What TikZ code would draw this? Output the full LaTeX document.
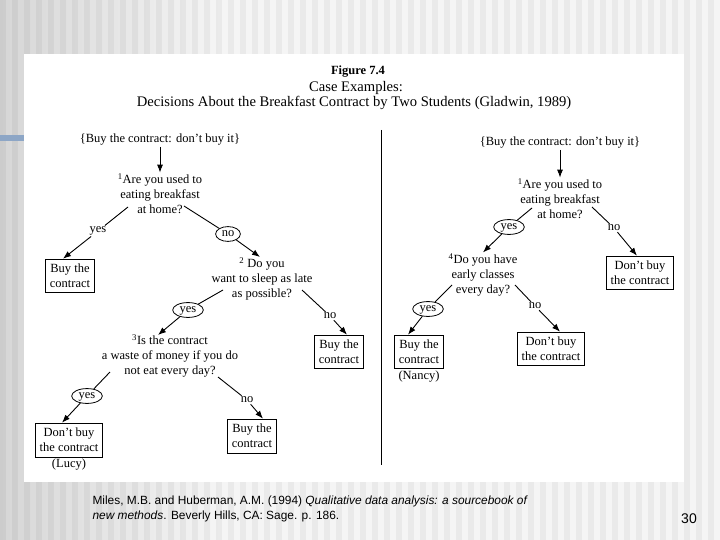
\documentclass[tikz,border=0pt]{standalone}
\usepackage{fontspec}
\setmainfont{Liberation Serif}
\setsansfont{Liberation Sans}
\usetikzlibrary{shapes.geometric, arrows.meta, positioning}

\definecolor{slidebar}{RGB}{141,166,198}
\newcommand{\treefont}{\fontsize{12.5}{15}\selectfont}
\newcommand{\titlefont}{\fontsize{14.6}{16}\selectfont}

\begin{document}
\begin{tikzpicture}[
    x=1pt, y=-1pt,
    font=\treefont,
    question/.style={
        align=center,
        inner sep=1pt
    },
    answer/.style={
        inner sep=1pt
    },
    chosen/.style={
        draw,
        ellipse,
        line width=0.8pt,
        inner xsep=2.5pt,
        inner ysep=1.5pt,
        text height=6pt,
        text depth=1.5pt
    },
    outcome/.style={
        draw,
        line width=0.8pt,
        align=center,
        inner xsep=4pt,
        inner ysep=5pt
    },
    link/.style={
        line width=0.9pt
    },
    arrow/.style={
        line width=0.9pt,
        -{Latex[length=8pt,width=6pt]}
    }
]
\useasboundingbox (0,0) rectangle (720,540);

% Slide background
\fill[black!4] (0,0) rectangle (720,540);
\shade[left color=black!16, right color=black!4] (0,0) rectangle (220,540);
\foreach \x in {0,12,...,708} {
    \fill[black, opacity=0.045] (\x,0) rectangle ++(6,540);
}
\fill[slidebar] (0,135) rectangle (24,141);
\fill[white] (24,54) rectangle (684,482);

% Title
\node[font=\fontsize{12.5}{14}\selectfont\bfseries] (fig) at (358,72) {Figure 7.4};
\node[font=\titlefont] (case) at (356,88) {Case Examples:};
\node[font=\titlefont] (decis) at (354,103) {Decisions About the Breakfast Contract by Two Students (Gladwin, 1989)};

% Separator between the two students
\draw[line width=0.8pt] (381,130) -- (381,465);


% Left tree (Lucy)
\node[question] (lhead) at (160,140) {\{Buy the contract: don't buy it\}};
\node[question] (lq1) at (160,194) {\textsuperscript{1}Are you used to\\eating breakfast\\at home?};
\node[answer] (lyes1) at (98,231) {yes};
\node[chosen] (lno1) at (228,234) {no};
\node[outcome] (lbuy1) at (70,276) {Buy the\\contract};
\node[question] (lq2) at (262,279) {\textsuperscript{2} Do you\\want to sleep as late\\as possible?};
\node[chosen] (lyes2) at (188,310) {yes};
\node[answer] (lno2) at (330,316) {no};
\node[outcome] (lbuy2) at (339,352) {Buy the\\contract};
\node[question] (lq3) at (170,356) {\textsuperscript{3}Is the contract\\a waste of money if you do\\not eat every day?};
\node[chosen] (lyes3) at (87,396) {yes};
\node[answer] (lno3) at (247,400) {no};
\node[outcome] (ldont) at (69,440) {Don't buy\\the contract};
\node[below=-2pt of ldont] (lucy) {(Lucy)};
\node[outcome] (lbuy3) at (252,436) {Buy the\\contract};

\draw[arrow] (lhead) -- (lq1);
\draw[link] ([shift={(-32pt,-13pt)}]lq1.center) -- (lyes1);
\draw[arrow] (lyes1) -- ([xshift=-7pt]lbuy1.north);
\draw[link] ([shift={(24pt,-12pt)}]lq1.center) -- (lno1);
\draw[arrow] (lno1) -- ([shift={(-2pt,22pt)}]lq2.center);
\draw[link] ([shift={(-39pt,-11pt)}]lq2.center) -- (lyes2);
\draw[arrow] (lyes2) -- ([shift={(-12pt,21pt)}]lq3.center);
\draw[link] ([shift={(40pt,-11pt)}]lq2.center) -- (lno2);
\draw[arrow] (lno2) -- ([xshift=8pt]lbuy2.north);
\draw[link] ([shift={(-60pt,-16pt)}]lq3.center) -- (lyes3);
\draw[arrow] (lyes3) -- ([xshift=-7pt]ldont.north);
\draw[link] ([shift={(48pt,-21pt)}]lq3.center) -- (lno3);
\draw[arrow] (lno3) -- ([xshift=11pt]lbuy3.north);


% Right tree (Nancy)
\node[question] (rhead) at (560,143) {\{Buy the contract: don't buy it\}};
\node[question] (rq1) at (560,199) {\textsuperscript{1}Are you used to\\eating breakfast\\at home?};
\node[chosen] (ryes1) at (509,227) {yes};
\node[answer] (rno1) at (614,228) {no};
\node[outcome] (rdont1) at (640,273) {Don't buy\\the contract};
\node[question] (rq4) at (483,275) {\textsuperscript{4}Do you have\\early classes\\every day?};
\node[chosen] (ryes4) at (428,309) {yes};
\node[answer] (rno4) at (535,306) {no};
\node[outcome] (rbuy) at (419,352) {Buy the\\contract};
\node[below=-2pt of rbuy] (nancy) {(Nancy)};
\node[outcome] (rdont2) at (551,349) {Don't buy\\the contract};

\draw[arrow] (rhead) -- (rq1);
\draw[link] ([shift={(-28pt,-9pt)}]rq1.center) -- (ryes1);
\draw[arrow] (ryes1) -- (rq4.north);
\draw[link] ([shift={(32pt,-8pt)}]rq1.center) -- (rno1);
\draw[arrow] (rno1) -- ([xshift=-3pt]rdont1.north);
\draw[link] ([shift={(-31pt,-10pt)}]rq4.center) -- (ryes4);
\draw[arrow] (ryes4) -- ([xshift=-11pt]rbuy.north);
\draw[link] ([shift={(32pt,-10pt)}]rq4.center) -- (rno4);
\draw[arrow] (rno4) -- ([xshift=9pt]rdont2.north);


% Source and page number
\node[font=\sffamily\fontsize{11.9}{15}\selectfont, align=left, anchor=west] (source) at (89,509)
    {Miles, M.B. and Huberman, A.M. (1994) \textit{Qualitative data analysis: a sourcebook of}\\
     \textit{new methods}. Beverly Hills, CA: Sage. p. 186.};
\node[font=\sffamily\fontsize{14}{16}\selectfont] (page) at (689,519) {30};

\end{tikzpicture}
\end{document}
